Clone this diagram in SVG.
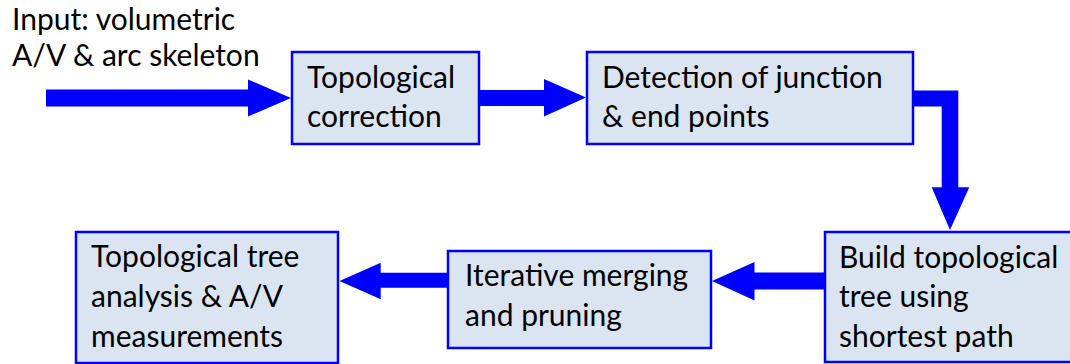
<svg xmlns="http://www.w3.org/2000/svg" width="1070" height="364" viewBox="0 0 1070 364">
  <style>
    .box { fill: #dbe5f1; stroke: #0000ff; stroke-width: 2.5; }
    .lbl { font-family: Lato, "Liberation Sans", sans-serif; font-size: 30px; fill: #000000; }
    .arrow { fill: #0000ff; stroke: none; }
  </style>
  <rect width="1070" height="364" fill="#ffffff"/>

  <!-- input label -->
  <g id="input-label">
    <text class="lbl" x="12" y="30">Input: volumetric</text>
    <text class="lbl" x="12" y="65.5">A/V &amp; arc skeleton</text>
  </g>

  <!-- process steps -->
  <g id="topological-correction">
    <rect class="box" x="292" y="52" width="187" height="92"/>
    <text class="lbl" x="307" y="87.5">Topological</text>
    <text class="lbl" x="307" y="127">correction</text>
  </g>

  <g id="detection">
    <rect class="box" x="587" y="52" width="326" height="92"/>
    <text class="lbl" x="602" y="87.5">Detection of junction</text>
    <text class="lbl" x="602" y="127">&amp; end points</text>
  </g>

  <g id="build-tree">
    <rect class="box" x="825" y="232" width="250" height="130"/>
    <text class="lbl" x="839" y="267.5">Build topological</text>
    <text class="lbl" x="839" y="307">tree using</text>
    <text class="lbl" x="839" y="346.5">shortest path</text>
  </g>

  <g id="merging-pruning">
    <rect class="box" x="448" y="251" width="263" height="97"/>
    <text class="lbl" x="465" y="286">Iterative merging</text>
    <text class="lbl" x="465" y="325.5">and pruning</text>
  </g>

  <g id="tree-analysis">
    <rect class="box" x="76" y="232" width="262" height="131"/>
    <text class="lbl" x="91" y="267">Topological tree</text>
    <text class="lbl" x="91" y="307">analysis &amp; A/V</text>
    <text class="lbl" x="91" y="347">measurements</text>
  </g>

  <!-- block arrows between steps -->
  <g id="connectors">
    <polygon class="arrow" points="46,89.5 248,89.5 248,79.5 291,98 248,116.5 248,106.5 46,106.5"/>
    <polygon class="arrow" points="479,90 544,90 544,79 586,97.5 544,116.5 544,106 479,106"/>
    <polygon class="arrow" points="913,90.5 958.3,90.5 958.3,187.3 969.3,187.3 950,230 931.7,187.3 941.7,187.3 941.7,106.5 913,106.5"/>
    <polygon class="arrow" points="824,272.5 754.5,272.5 754.5,262 712,281 754.5,300.5 754.5,289.5 824,289.5"/>
    <polygon class="arrow" points="448,272.7 380.7,272.7 380.7,262.7 339.5,281 380.7,299.3 380.7,287.7 448,287.7"/>
  </g>
</svg>
